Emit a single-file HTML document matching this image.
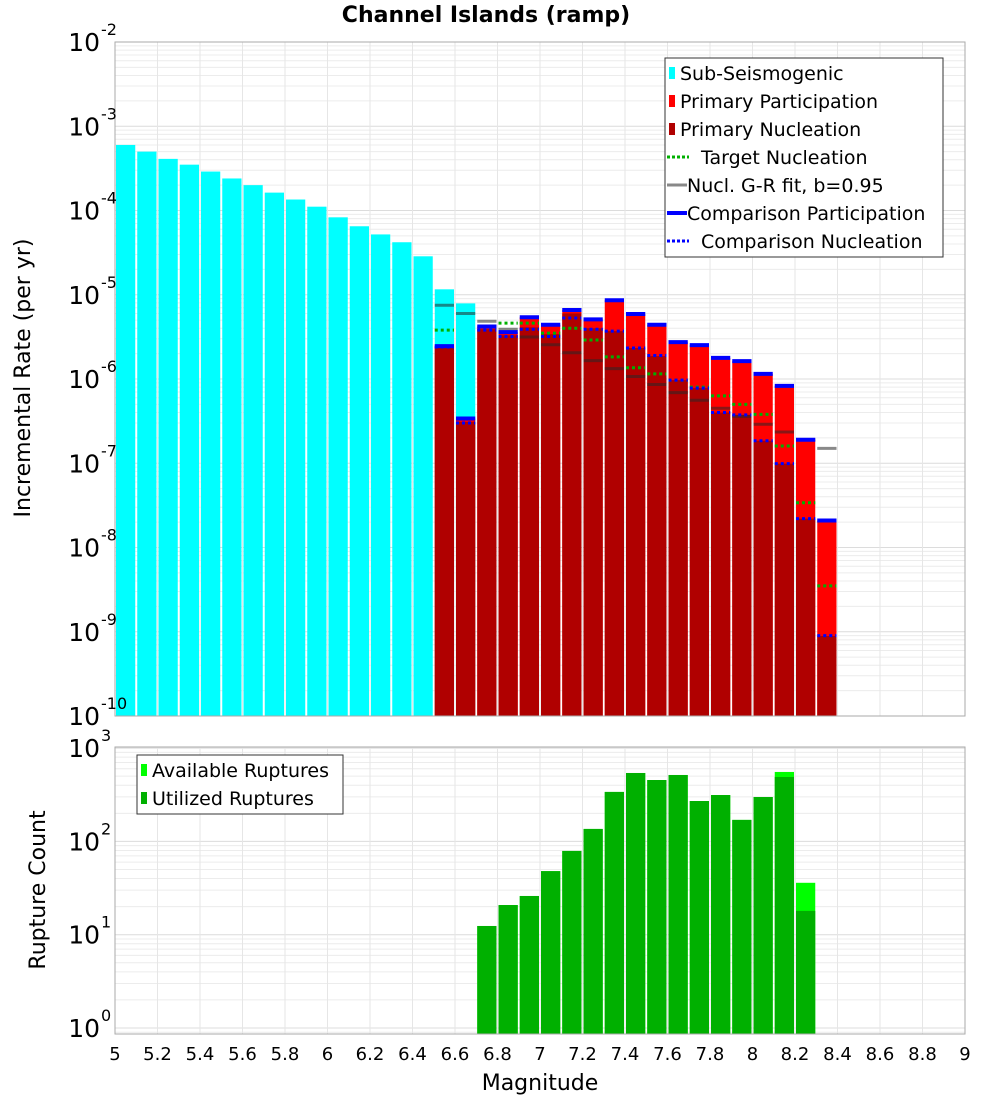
<!DOCTYPE html>
<html><head><meta charset="utf-8">
<style>
body{margin:0;background:#fff;font-family:"DejaVu Sans","Liberation Sans",sans-serif;}
svg{display:block}
text{font-family:"DejaVu Sans","Liberation Sans",sans-serif;}
</style></head>
<body>
<svg id="c" width="1000" height="1100" viewBox="0 0 1000 1100" xmlns="http://www.w3.org/2000/svg">
<text x="486" y="22" text-anchor="middle" font-size="22" font-weight="bold">Channel Islands (ramp)</text>
<g id="topplot"></g>
<g id="botplot"></g>
<text x="30" y="378" transform="rotate(-90 30 378)" text-anchor="middle" font-size="22">Incremental Rate (per yr)</text>
<text x="45" y="890" transform="rotate(-90 45 890)" text-anchor="middle" font-size="22">Rupture Count</text>
<text x="540" y="1090" text-anchor="middle" font-size="22">Magnitude</text>
</svg>
<script>
// ---- data ----
const subMags = [5.05,5.15,5.25,5.35,5.45,5.55,5.65,5.75,5.85,5.95,6.05,6.15,6.25,6.35,6.45,6.55,6.65];
const subRates = [6.0e-4,5.0e-4,4.1e-4,3.5e-4,2.9e-4,2.4e-4,2.0e-4,1.63e-4,1.35e-4,1.11e-4,8.3e-5,6.5e-5,5.2e-5,4.2e-5,2.86e-5,1.16e-5,7.9e-6];
const primMags = [6.55,6.65,6.75,6.85,6.95,7.05,7.15,7.25,7.35,7.45,7.55,7.65,7.75,7.85,7.95,8.05,8.15,8.25,8.35];
const partRates = [2.46e-6,3.4e-7,4.2e-6,3.6e-6,5.4e-6,4.4e-6,6.6e-6,5.1e-6,8.6e-6,5.9e-6,4.4e-6,2.74e-6,2.52e-6,1.78e-6,1.63e-6,1.15e-6,8.3e-7,1.9e-7,2.09e-8];
const nuclRates = [2.4e-6,3.1e-7,3.9e-6,3.3e-6,4.1e-6,3.4e-6,6.0e-6,4.0e-6,3.7e-6,2.33e-6,1.87e-6,9.7e-7,7.8e-7,4.0e-7,3.75e-7,1.85e-7,9.9e-8,2.2e-8,8.9e-10];
const targetRates = [3.8e-6,null,null,4.6e-6,4.6e-6,3.5e-6,4.0e-6,2.9e-6,1.83e-6,1.36e-6,1.15e-6,9.7e-7,8.0e-7,6.3e-7,5.0e-7,3.8e-7,1.6e-7,3.4e-8,3.5e-9];
const grRates = [7.5e-6,6.0e-6,4.85e-6,3.9e-6,3.15e-6,2.55e-6,2.05e-6,1.65e-6,1.33e-6,1.07e-6,8.6e-7,6.9e-7,5.6e-7,4.5e-7,3.6e-7,2.9e-7,2.35e-7,1.9e-7,1.5e-7];
const compPartRates = [2.46e-6,3.4e-7,4.2e-6,3.6e-6,5.4e-6,4.4e-6,6.6e-6,5.1e-6,8.6e-6,5.9e-6,4.4e-6,2.74e-6,2.52e-6,1.78e-6,1.63e-6,1.15e-6,8.3e-7,1.9e-7,2.09e-8];
const compNuclRates = [2.4e-6,3.0e-7,3.8e-6,3.2e-6,3.9e-6,3.2e-6,5.3e-6,3.9e-6,3.7e-6,2.33e-6,1.9e-6,9.7e-7,7.8e-7,4.0e-7,3.75e-7,1.85e-7,9.9e-8,2.2e-8,9.0e-10];
const cntMags = [6.75,6.85,6.95,7.05,7.15,7.25,7.35,7.45,7.55,7.65,7.75,7.85,7.95,8.05,8.15,8.25];
const availCounts = [12.4,20.8,26,48,79,136,339,541,455,515,271,314,170,299,555,36];
const usedCounts = [12.4,20.8,26,48,79,136,339,541,455,515,271,314,170,299,490,18];
const xTicks = [5,5.2,5.4,5.6,5.8,6,6.2,6.4,6.6,6.8,7,7.2,7.4,7.6,7.8,8,8.2,8.4,8.6,8.8,9];
const topExps = [-2,-3,-4,-5,-6,-7,-8,-9,-10];
const botExps = [3,2,1,0];

// ---- axes ----
const NS="http://www.w3.org/2000/svg";
const X0=115,X1=965, XMIN=5, XMAX=9;
const x = m => X0+(m-XMIN)/(XMAX-XMIN)*(X1-X0);
const T0=42,T1=716, yTop = v => T0+(-2-Math.log10(v))*(T1-T0)/8;
const B0=747,B1=1034, DEC=93.3, yBot = v => 1028-Math.log10(v)*DEC;
const bw = x(5.1)-x(5);
function mk(parent,tag,attrs){const e=document.createElementNS(NS,tag);for(const k in attrs)e.setAttribute(k,attrs[k]);parent.appendChild(e);return e;}
const gTop=document.getElementById('topplot'), gBot=document.getElementById('botplot');

function grid(g,y0,y1,yfun,lo,hi){
  mk(g,'rect',{x:X0,y:y0,width:X1-X0,height:y1-y0,fill:'#fff'});
  for(let e=lo;e<=hi;e++){for(let k=1;k<10;k++){const v=k*Math.pow(10,e);const yy=yfun(v);if(yy<y0-0.5||yy>y1+0.5)continue;
    const l=mk(g,'line',{x1:X0,x2:X1,y1:yy,y2:yy,stroke:k==1?'#dcdcdc':'#ececec','stroke-width':1});
    
    }}
  xTicks.forEach(t=>{const l=mk(g,'line',{x1:x(t),x2:x(t),y1:y0,y2:y1,stroke:'#e6e6e6','stroke-width':1});
    
    });
}
grid(gTop,T0,T1,yTop,-11,-2);
grid(gBot,B0,B1,yBot,-1,3);

function bar(g,m,v,yfun,base,color,name){
  const yy=yfun(v);
  const r=mk(g,'rect',{x:x(m-0.05)+1,y:yy,width:bw-2,height:base-yy,fill:color});
  
  
}
function hline(g,m,v,color,w,dash,name){
  if(v==null)return;
  const yy=yTop(v);
  const a={x1:x(m-0.05)+1,x2:x(m+0.05)-1,y1:yy,y2:yy,stroke:color,'stroke-width':w};
  if(dash)a['stroke-dasharray']=dash;
  const l=mk(g,'line',a);
  
  
}
subMags.forEach((m,i)=>bar(gTop,m,subRates[i],yTop,T1,'#00ffff','sub-seismogenic-bar'));
primMags.forEach((m,i)=>bar(gTop,m,partRates[i],yTop,T1,'#ff0000','participation-bar'));
primMags.forEach((m,i)=>bar(gTop,m,nuclRates[i],yTop,T1,'#b00000','nucleation-bar'));
primMags.forEach((m,i)=>hline(gTop,m,targetRates[i],'#00b000',3,'3,3','target-nucleation-mark'));
primMags.forEach((m,i)=>hline(gTop,m,grRates[i],'rgba(40,40,40,0.55)',3,null,'gr-fit-mark'));
primMags.forEach((m,i)=>hline(gTop,m,compPartRates[i],'#0000ff',4,null,'comparison-participation-mark'));
primMags.forEach((m,i)=>hline(gTop,m,compNuclRates[i],'#0000ff',3,'3,3','comparison-nucleation-mark'));
cntMags.forEach((m,i)=>bar(gBot,m,availCounts[i],yBot,B1,'#00ff00','available-ruptures-bar'));
cntMags.forEach((m,i)=>bar(gBot,m,usedCounts[i],yBot,B1,'#00b000','utilized-ruptures-bar'));

mk(gTop,'rect',{x:X0,y:T0,width:X1-X0,height:T1-T0,fill:'none',stroke:'#aaa','stroke-width':1});
mk(gBot,'rect',{x:X0,y:B0,width:X1-X0,height:B1-B0,fill:'none',stroke:'#aaa','stroke-width':1});

function expLabel(g,yy,e,name){
  const t=mk(g,'text',{x:100,y:yy+9,'text-anchor':'end','font-size':25});
  t.textContent='10';
  
  
  const s=mk(g,'text',{x:101,y:yy-7,'font-size':16});
  s.textContent=String(e);
  
  
}
topExps.forEach(e=>expLabel(gTop,yTop(Math.pow(10,e)),e,'y-tick-rate'));
botExps.forEach(e=>expLabel(gBot,yBot(Math.pow(10,e)),e,'y-tick-count'));
xTicks.forEach(t=>{const tx=mk(gBot,'text',{x:x(t),y:1060,'text-anchor':'middle','font-size':18});
  tx.textContent=String(t);
  
  });

// ---- legends ----
function legend(g,lx,ly,w,h,items,name){
  const L=mk(g,'g',{});
  
  
  mk(L,'rect',{x:lx,y:ly,width:w,height:h,fill:'#fff',stroke:'#333','stroke-width':1});
  items.forEach((it,i)=>{
    const cy=ly+15+i*28;
    const e=mk(L,'g',{});
    
    
    let tx=lx+15;
    if(it.t=='box'){mk(e,'rect',{x:lx+4,y:cy-6,width:6,height:12,fill:it.c});}
    else if(it.t=='dot'){mk(e,'line',{x1:lx+2,x2:lx+24,y1:cy,y2:cy,stroke:it.c,'stroke-width':3,'stroke-dasharray':'3,2'});tx=lx+36;}
    else {mk(e,'line',{x1:lx+2,x2:lx+22,y1:cy,y2:cy,stroke:it.c,'stroke-width':it.w});tx=lx+22;}
    const t=mk(e,'text',{x:tx,y:cy+7,'font-size':19});
    t.textContent=it.s;
  });
}
legend(gTop,665,58,278,199,[
 {t:'box',c:'#00ffff',s:'Sub-Seismogenic'},
 {t:'box',c:'#ff0000',s:'Primary Participation'},
 {t:'box',c:'#b00000',s:'Primary Nucleation'},
 {t:'dot',c:'#00b000',s:'Target Nucleation'},
 {t:'line',c:'#888',w:3,s:'Nucl. G-R fit, b=0.95'},
 {t:'line',c:'#0000ff',w:4,s:'Comparison Participation'},
 {t:'dot',c:'#0000ff',s:'Comparison Nucleation'}],'rate-legend');
legend(gBot,137,755,206,59,[
 {t:'box',c:'#00ff00',s:'Available Ruptures'},
 {t:'box',c:'#00b000',s:'Utilized Ruptures'}],'count-legend');
</script>
</body></html>
